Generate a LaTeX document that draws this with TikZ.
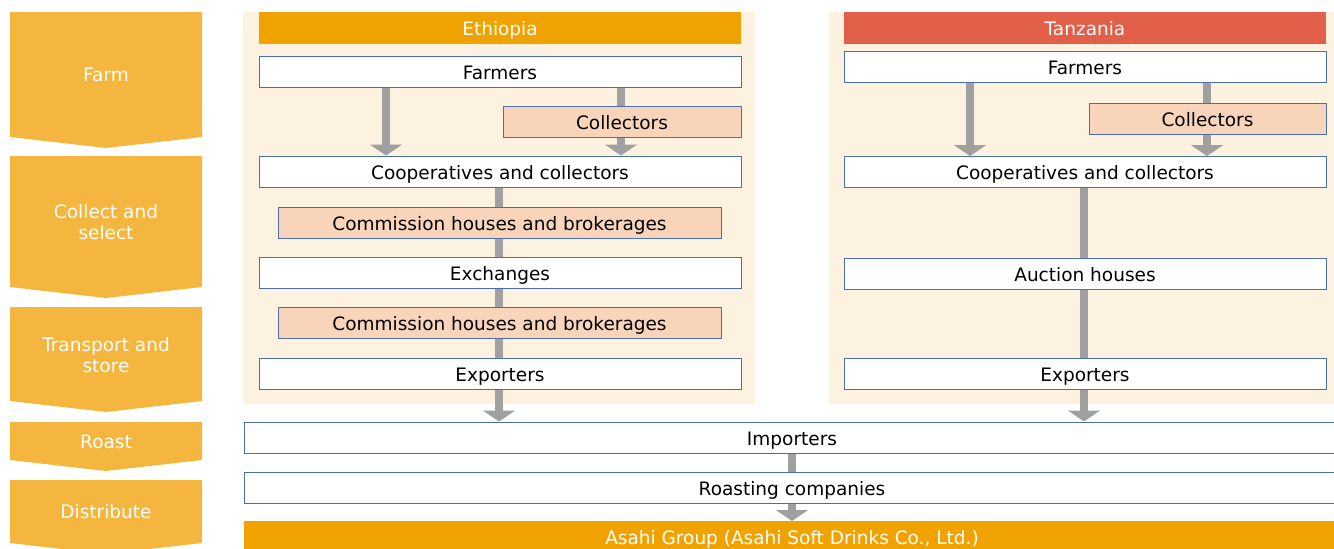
\documentclass[tikz,border=0pt]{standalone}
\usepackage{fontspec}
\setmainfont{DejaVu Sans}
\usetikzlibrary{arrows.meta}
\pgfdeclarelayer{bg}
\pgfdeclarelayer{arr}
\pgfsetlayers{bg,arr,main}
\definecolor{chev}{HTML}{F4B63F}
\definecolor{panel}{HTML}{FDF1DF}
\definecolor{hdrO}{HTML}{F0A300}
\definecolor{hdrR}{HTML}{E2604A}
\definecolor{coll}{HTML}{F8D5BA}
\definecolor{bord}{HTML}{4A6EB0}
\definecolor{arrg}{HTML}{A0A0A0}
\tikzset{
  box/.style={draw=bord, line width=1pt, fill=white, inner sep=0pt, minimum height=31pt, font=\fontsize{18.5}{21.5}\selectfont, text=black, text height=16pt, text depth=1pt},
  cbox/.style={box, fill=coll},
  hdr/.style={inner sep=0pt, minimum height=32pt, font=\fontsize{18.5}{21.5}\selectfont, text=white, text height=16pt, text depth=1pt},
  chevtxt/.style={font=\fontsize{18.5}{21.5}\selectfont, text=white, align=center},
  flow/.style={draw=arrg, line width=8pt},
  flowhead/.style={flow, -{Triangle[width=32pt,length=11pt]}},
}
\begin{document}
\begin{tikzpicture}[x=1pt,y=-1pt]
\useasboundingbox (0,0) rectangle (1334,549);
% chevrons
\begin{pgfonlayer}{bg}
\fill[chev] (10,12) -- (202,12) -- (202,137) -- (106,148) -- (10,137) -- cycle;
\fill[chev] (10,156) -- (202,156) -- (202,287) -- (106,298) -- (10,287) -- cycle;
\fill[chev] (10,307) -- (202,307) -- (202,401) -- (106,412) -- (10,401) -- cycle;
\fill[chev] (10,422) -- (202,422) -- (202,460) -- (106,471) -- (10,460) -- cycle;
\fill[chev] (10,480) -- (202,480) -- (202,543) -- (106,554) -- (10,543) -- cycle;
\fill[panel] (243,12) rectangle (755,404);
\fill[panel] (829,12) rectangle (1334,404);
\end{pgfonlayer}
\node[chevtxt] (s1) at (106,75) {Farm};
\node[chevtxt] (s2) at (106,222) {Collect and\\select};
\node[chevtxt] (s3) at (106,355) {Transport and\\store};
\node[chevtxt] (s4) at (106,442) {Roast};
\node[chevtxt] (s5) at (106,512) {Distribute};
% Ethiopia
\node[hdr, fill=hdrO, minimum width=482pt] (eh) at (500,28) {Ethiopia};
\node[box, minimum width=482pt] (ef) at (500,71.5) {Farmers};
\node[cbox, minimum width=238pt] (ec) at (622,122) {Collectors};
\node[box, minimum width=482pt] (eco) at (500,171.5) {Cooperatives and collectors};
\node[cbox, minimum width=443pt] (ecm1) at (499.5,222.5) {Commission houses and brokerages};
\node[box, minimum width=482pt] (eex) at (500,272.5) {Exchanges};
\node[cbox, minimum width=443pt] (ecm2) at (499.5,322.5) {Commission houses and brokerages};
\node[box, minimum width=482pt] (eexp) at (500,373.5) {Exporters};
% Tanzania
\node[hdr, fill=hdrR, minimum width=482pt] (th) at (1085,28) {Tanzania};
\node[box, minimum width=482pt] (tf) at (1085,66.5) {Farmers};
\node[cbox, minimum width=237pt] (tc) at (1207.5,119) {Collectors};
\node[box, minimum width=482pt] (tco) at (1085,172) {Cooperatives and collectors};
\node[box, minimum width=482pt] (ta) at (1085,273.5) {Auction houses};
\node[box, minimum width=482pt] (texp) at (1085,373.5) {Exporters};
% common
\node[box, minimum width=1096pt] (imp) at (792,437.5) {Importers};
\node[box, minimum width=1096pt] (roa) at (792,487.5) {Roasting companies};
\node[hdr, fill=hdrO, minimum width=1096pt, minimum height=34pt, anchor=north, text height=13.5pt, text depth=-5pt] (asa) at (792,521) {Asahi Group (Asahi Soft Drinks Co., Ltd.)};
% helper x coordinates
\coordinate (exl) at (386,0);
\coordinate (exr) at (621,0);
\coordinate (exc) at (499,0);
\coordinate (txl) at (970,0);
\coordinate (txr) at (1207,0);
\coordinate (txc) at (1084,0);
\coordinate (cx) at (792,0);
\begin{pgfonlayer}{arr}
\draw[flowhead] (ef.south -| exl) -- (eco.north -| exl);
\draw[flowhead] (ef.south -| exr) -- (eco.north -| exr);
\draw[flow] (eco.south -| exc) -- (eexp.north -| exc);
\draw[flowhead] (eexp.south -| exc) -- (imp.north -| exc);
\draw[flowhead] (tf.south -| txl) -- (tco.north -| txl);
\draw[flowhead] (tf.south -| txr) -- (tco.north -| txr);
\draw[flow] (tco.south -| txc) -- (texp.north -| txc);
\draw[flowhead] (texp.south -| txc) -- (imp.north -| txc);
\draw[flow] (imp.south -| cx) -- (roa.north -| cx);
\draw[flowhead] (roa.south -| cx) -- (asa.north -| cx);
\end{pgfonlayer}
\end{tikzpicture}
\end{document}
